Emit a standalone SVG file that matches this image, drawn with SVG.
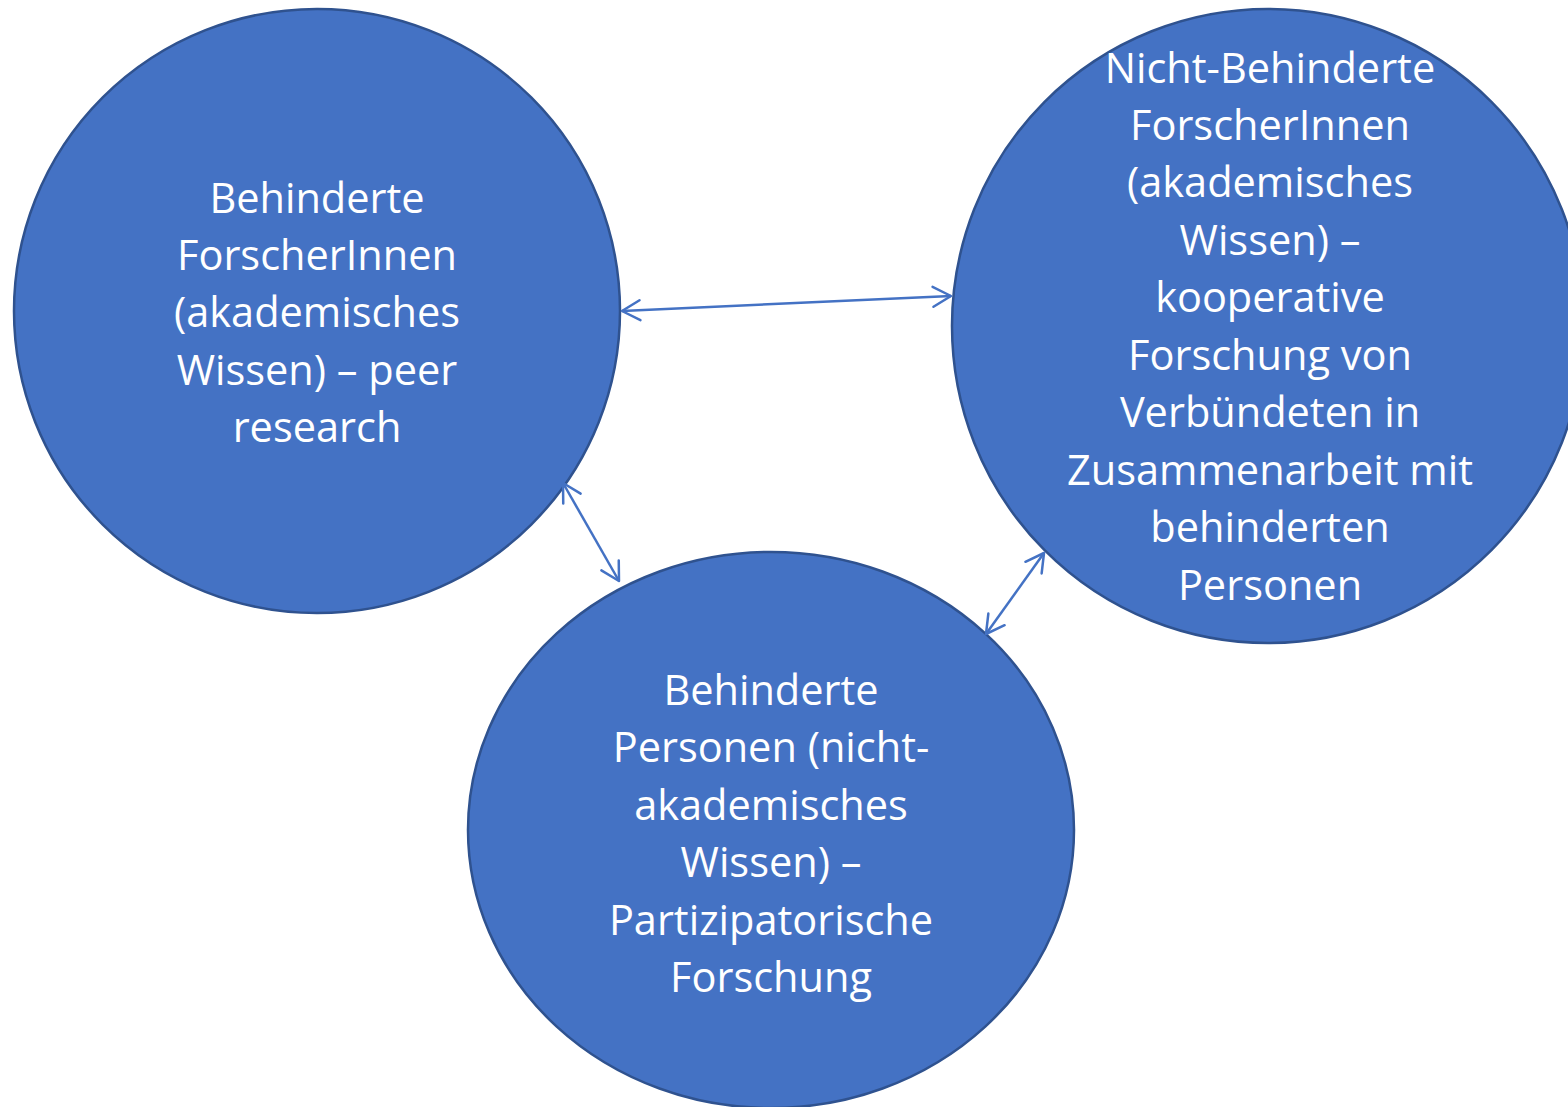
<svg xmlns="http://www.w3.org/2000/svg" width="1568" height="1107" viewBox="0 0 1568 1107">
<style>
.node{fill:#4472C4;stroke:#2F528F;stroke-width:2.5}
.lbl{font-family:"Open Sans","Noto Sans",sans-serif;font-size:41.5px;fill:#FFFFFF;text-anchor:middle}
</style>
<defs>
<marker id="ah2" viewBox="0 0 24 24" refX="22" refY="12" markerWidth="24" markerHeight="24" markerUnits="userSpaceOnUse" orient="auto-start-reverse">
<path d="M4,2 L22,12 L4,22" fill="none" stroke="#4472C4" stroke-width="2.5" stroke-linecap="round" stroke-linejoin="round"/>
</marker>
</defs>
<rect width="1568" height="1107" fill="#FFFFFF"/>
<g id="node-left">
<ellipse class="node" cx="317" cy="311" rx="303" ry="302"/>
<text class="lbl"><tspan x="317" y="213">Behinderte</tspan><tspan x="317" y="270">ForscherInnen</tspan><tspan x="317" y="327">(akademisches</tspan><tspan x="317" y="385">Wissen) – peer</tspan><tspan x="317" y="442">research</tspan></text>
</g>
<g id="node-right">
<ellipse class="node" cx="1268" cy="326" rx="316" ry="317"/>
<text class="lbl"><tspan x="1270" y="83">Nicht-Behinderte</tspan><tspan x="1270" y="140">ForscherInnen</tspan><tspan x="1270" y="197">(akademisches</tspan><tspan x="1270" y="255">Wissen) –</tspan><tspan x="1270" y="312">kooperative</tspan><tspan x="1270" y="370">Forschung von</tspan><tspan x="1270" y="427">Verbündeten in</tspan><tspan x="1270" y="485">Zusammenarbeit mit</tspan><tspan x="1270" y="542">behinderten</tspan><tspan x="1270" y="600">Personen</tspan></text>
</g>
<g id="node-bottom">
<ellipse class="node" cx="771" cy="830" rx="303" ry="278"/>
<text class="lbl"><tspan x="771" y="705">Behinderte</tspan><tspan x="771" y="762">Personen (nicht-</tspan><tspan x="771" y="820">akademisches</tspan><tspan x="771" y="877">Wissen) –</tspan><tspan x="771" y="935">Partizipatorische</tspan><tspan x="771" y="992">Forschung</tspan></text>
</g>
<g id="connectors">
<line x1="622" y1="311" x2="951" y2="296" stroke="#4472C4" stroke-width="2.5" marker-start="url(#ah2)" marker-end="url(#ah2)"/>
<line x1="563" y1="483" x2="619" y2="581" stroke="#4472C4" stroke-width="2.5" marker-start="url(#ah2)" marker-end="url(#ah2)"/>
<line x1="1044" y1="553" x2="986" y2="634" stroke="#4472C4" stroke-width="2.5" marker-start="url(#ah2)" marker-end="url(#ah2)"/>
</g>
</svg>
